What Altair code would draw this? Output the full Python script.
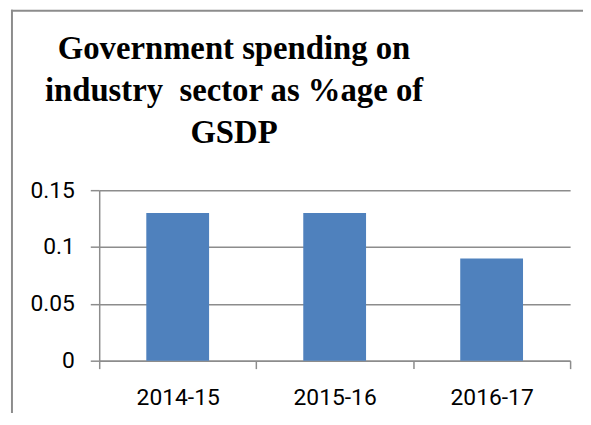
import altair as alt
import pandas as pd

categories = ["2014-15", "2015-16", "2016-17"]
values = [0.13, 0.13, 0.09]
y_ticks = [0, 0.05, 0.1, 0.15]
title_text = "Government spending on\nindustry\u00a0 sector as %age of\nGSDP"

df = pd.DataFrame({"year": categories, "share": values})
GRAY = "#8c8c8c"

bars = alt.Chart(df).mark_bar(color="#4F81BD", width=alt.RelativeBandSize(0.4)).encode(
    x=alt.X("year:N", sort=categories,
            scale=alt.Scale(paddingInner=0, paddingOuter=0),
            axis=alt.Axis(title=None, tickBand="extent", tickSize=8, labelPadding=18,
                          labelAngle=0, grid=False, labelFont="Roboto", labelFontSize=23,
                          labelColor="black", domainColor=GRAY, tickColor=GRAY,
                          domainWidth=1.5, tickWidth=1.5)),
    y=alt.Y("share:Q", scale=alt.Scale(domain=[0, 0.15], nice=False),
            axis=alt.Axis(title=None, values=y_ticks, labelExpr="datum.value + ''",
                          grid=True, tickSize=9, labelPadding=16, labelFont="Roboto",
                          labelFontSize=23, labelColor="black", domainColor=GRAY,
                          tickColor=GRAY, gridColor=GRAY, gridWidth=1.5,
                          domainWidth=1.5, tickWidth=1.5)),
)

frame_df = pd.DataFrame({"k": [0]})
left_border = alt.Chart(frame_df).mark_rule(color=GRAY, strokeWidth=2).encode(
    x=alt.value(-88), y=alt.value(-182), y2=alt.value(400)
)
top_border = alt.Chart(frame_df).mark_rule(color=GRAY, strokeWidth=2).encode(
    x=alt.value(-89), x2=alt.value(600), y=alt.value(-181)
)

title_df = pd.DataFrame({"t": [title_text]})
title_mark = alt.Chart(title_df).mark_text(
    font="Liberation Serif", fontSize=33, fontWeight="bold", color="black",
    align="center", baseline="alphabetic", lineBreak="\n", lineHeight=42
).encode(text="t:N", x=alt.value(136), y=alt.value(-132))

chart = alt.layer(bars, left_border, top_border, title_mark).properties(
    width=475,
    height=172,
    autosize=alt.AutoSizeParams(type="none"),
    padding={"left": 92, "top": 182, "right": 13, "bottom": 51},
).configure_view(stroke=None)

chart.save("out.html", embed_options={"renderer": "svg", "actions": False})
